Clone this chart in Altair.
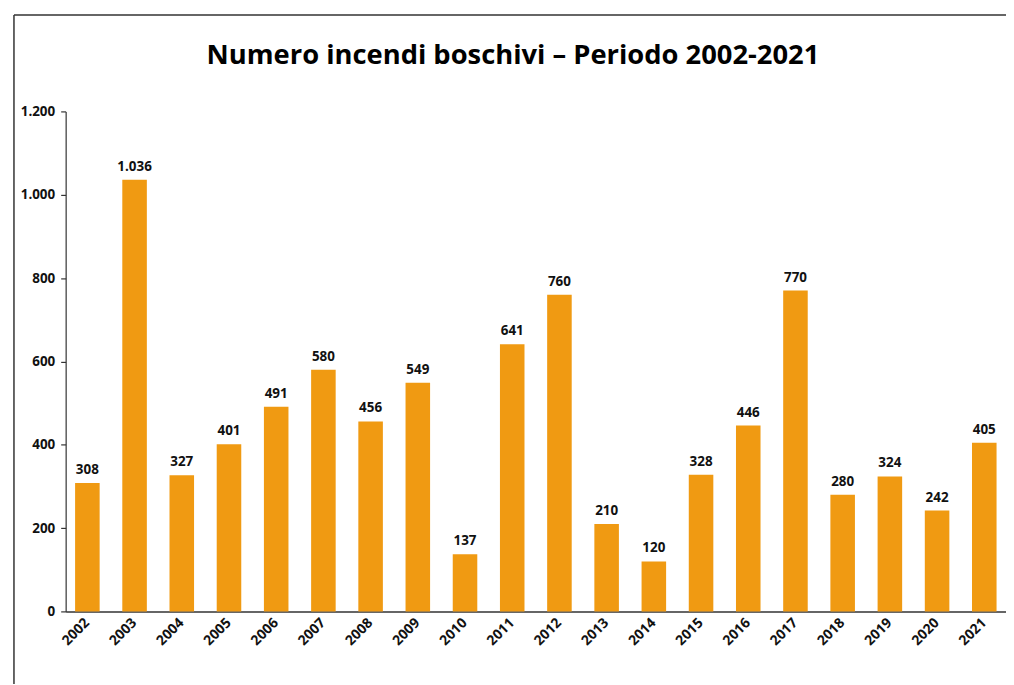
import altair as alt
import pandas as pd

anni = ["2002", "2003", "2004", "2005", "2006", "2007", "2008", "2009", "2010", "2011",
        "2012", "2013", "2014", "2015", "2016", "2017", "2018", "2019", "2020", "2021"]
incendi = [308, 1036, 327, 401, 491, 580, 456, 549, 137, 641,
           760, 210, 120, 328, 446, 770, 280, 324, 242, 405]
y_ticks = [0, 200, 400, 600, 800, 1000, 1200]

df = pd.DataFrame({"anno": anni, "incendi": incendi})

FONT = "Open Sans"
W, H = 946, 503
fmt = "replace(format({v}, ','), ',', '.')"

base = alt.Chart(df).transform_calculate(
    lab=fmt.format(v="datum.incendi")
).encode(
    x=alt.X("anno:N", sort=None,
            scale=alt.Scale(paddingInner=0.48, paddingOuter=0.2),
            axis=alt.Axis(title=None, labelAngle=-45, labelAlign="right",
                          labelBaseline="middle", ticks=False, labelPadding=9,
                          labelFont=FONT, labelFontSize=14, labelFontWeight="bold",
                          labelColor="#111", domainColor="#333", domainWidth=1.5))
)

bars = base.mark_bar(color="#F09A12").encode(
    y=alt.Y("incendi:Q",
            scale=alt.Scale(domain=[0, 1200], nice=False),
            axis=alt.Axis(title=None, values=y_ticks, grid=False, tickSize=5,
                          tickColor="#333", tickWidth=1.2,
                          domainColor="#333", domainWidth=1.2,
                          labelExpr=fmt.format(v="datum.value"),
                          labelPadding=6, labelFont=FONT, labelFontSize=13.5,
                          labelFontWeight="bold", labelColor="#111"))
)

labels = base.mark_text(dy=-6, baseline="bottom", font=FONT, fontSize=13.5,
                        fontWeight="bold", color="#111").encode(
    y="incendi:Q", text="lab:N"
)

frame_df = alt.Data(values=[{"k": 1}])
frame_v = alt.Chart(frame_df).mark_rule(color="#333", strokeWidth=1.5).encode(
    x=alt.value(-52), y=alt.value(-97), y2=alt.value(580)
)
frame_h = alt.Chart(frame_df).mark_rule(color="#333", strokeWidth=1.5).encode(
    x=alt.value(-52), x2=alt.value(1000), y=alt.value(-97)
)

chart = alt.layer(bars, labels, frame_v, frame_h).properties(
    width=W, height=H,
    padding={"left": 58, "top": 102, "right": 0, "bottom": 71},
    autosize=alt.AutoSizeParams(type="none"),
    title=alt.TitleParams("Numero incendi boschivi – Periodo 2002-2021",
                          font=FONT, fontSize=27.5, fontWeight="bold", color="#000",
                          anchor="middle", frame="group", baseline="alphabetic",
                          dx=-23, offset=-78),
).configure_view(stroke=None)

chart.save("out.html", embed_options={"renderer": "svg", "actions": False})
